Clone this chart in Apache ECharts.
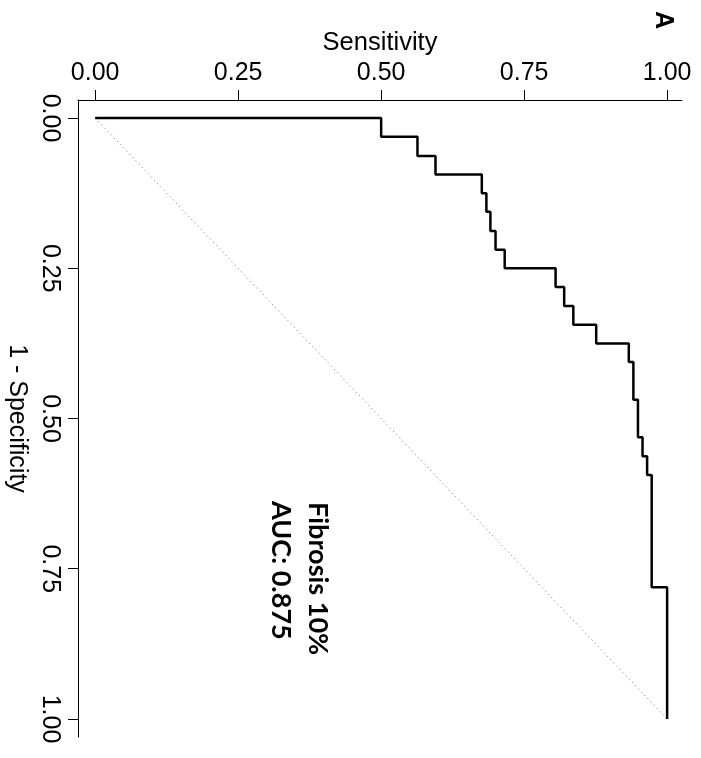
<!DOCTYPE html>
<html>
<head>
<meta charset="utf-8">
<script src="https://cdn.jsdelivr.net/npm/echarts@6/dist/echarts.min.js"></script>
<style>
  html, body { margin: 0; padding: 0; background: #fff; }
  #main { width: 701px; height: 758px; }
</style>
</head>
<body>
<div id="main"></div>
<script>
// roc curve corners: sensitivity and 1 - specificity
var sensitivity = [0, 0.5, 0.5635, 0.595, 0.676, 0.684, 0.691, 0.700, 0.716, 0.805,
  0.820, 0.836, 0.876, 0.933, 0.941, 0.949, 0.957, 0.965, 0.973, 1];
var oneMinusSpec = [0, 0.031, 0.063, 0.094, 0.125, 0.156, 0.188, 0.219, 0.25, 0.281,
  0.313, 0.344, 0.375, 0.406, 0.469, 0.531, 0.563, 0.594, 0.781, 1];
var diagonal = [[0, 0], [1, 1]];
var tickValues = [0, 0.25, 0.5, 0.75, 1];
var labelLines = ['Fibrosis 10%', 'AUC: 0.875'];

// staircase: go across first, then down
var steps = [];
for (var i = 0; i < sensitivity.length; i++) {
  steps.push([sensitivity[i], oneMinusSpec[i]]);
  if (i + 1 < sensitivity.length) {
    steps.push([sensitivity[i + 1], oneMinusSpec[i]]);
  }
}

var axisFont = 'Liberation Sans, Arial, Helvetica, sans-serif';
var chart = echarts.init(document.getElementById('main'), null, { renderer: 'canvas' });

var option = {
  animation: false,
  backgroundColor: '#fff',
  grid: { left: 78, right: 19, top: 100, bottom: 21, containLabel: false, outerBoundsMode: 'none' },
  xAxis: {
    type: 'value',
    position: 'top',
    min: -0.03,
    max: 1.026,
    name: 'Sensitivity',
    nameLocation: 'middle',
    nameGap: 44,
    nameTextStyle: { fontFamily: axisFont, fontSize: 25.5, color: '#000' },
    splitLine: { show: false },
    axisLine: { show: true, onZero: false, lineStyle: { color: '#000', width: 1 } },
    axisTick: { show: true, length: 10, customValues: tickValues, lineStyle: { color: '#000' } },
    axisLabel: {
      customValues: tickValues,
      margin: 14,
      fontFamily: axisFont,
      fontSize: 25,
      color: '#000',
      formatter: function (v) { return v.toFixed(2); }
    }
  },
  yAxis: {
    type: 'value',
    inverse: true,
    min: -0.03,
    max: 1.03,
    name: '1 - Specificity',
    nameLocation: 'middle',
    nameRotate: -90,
    nameGap: 47,
    nameTextStyle: { fontFamily: axisFont, fontSize: 25, color: '#000' },
    splitLine: { show: false },
    axisLine: { show: true, onZero: false, lineStyle: { color: '#000', width: 1 } },
    axisTick: { show: true, length: 10, customValues: tickValues, lineStyle: { color: '#000' } },
    axisLabel: {
      customValues: tickValues,
      rotate: -90,
      margin: 16,
      fontFamily: axisFont,
      fontSize: 25,
      color: '#000',
      formatter: function (v) { return v.toFixed(2); }
    }
  },
  series: [
    {
      name: 'chance',
      type: 'line',
      data: diagonal,
      symbol: 'none',
      silent: true,
      lineStyle: { color: '#999', width: 1, type: [1.5, 3] }
    },
    {
      name: 'roc',
      type: 'line',
      data: steps,
      symbol: 'none',
      silent: true,
      lineStyle: { color: '#000', width: 2.5 }
    }
  ],
  graphic: [
    {
      type: 'text',
      x: 663, y: 20,
      rotation: -Math.PI / 2,
      style: {
        text: 'A',
        font: 'bold 25px Liberation Sans, Arial, sans-serif',
        fill: '#000',
        textAlign: 'center',
        textVerticalAlign: 'middle'
      }
    },
    {
      type: 'text',
      x: 317.5, y: 502,
      rotation: -Math.PI / 2,
      style: {
        text: labelLines[0],
        font: 'bold 27px Lato, Open Sans, sans-serif',
        fill: '#000',
        textAlign: 'left',
        textVerticalAlign: 'middle'
      }
    },
    {
      type: 'text',
      x: 281, y: 501,
      rotation: -Math.PI / 2,
      style: {
        text: labelLines[1],
        font: 'bold 27px Lato, Open Sans, sans-serif',
        fill: '#000',
        textAlign: 'left',
        textVerticalAlign: 'middle'
      }
    }
  ]
};

chart.setOption(option);
</script>
</body>
</html>
